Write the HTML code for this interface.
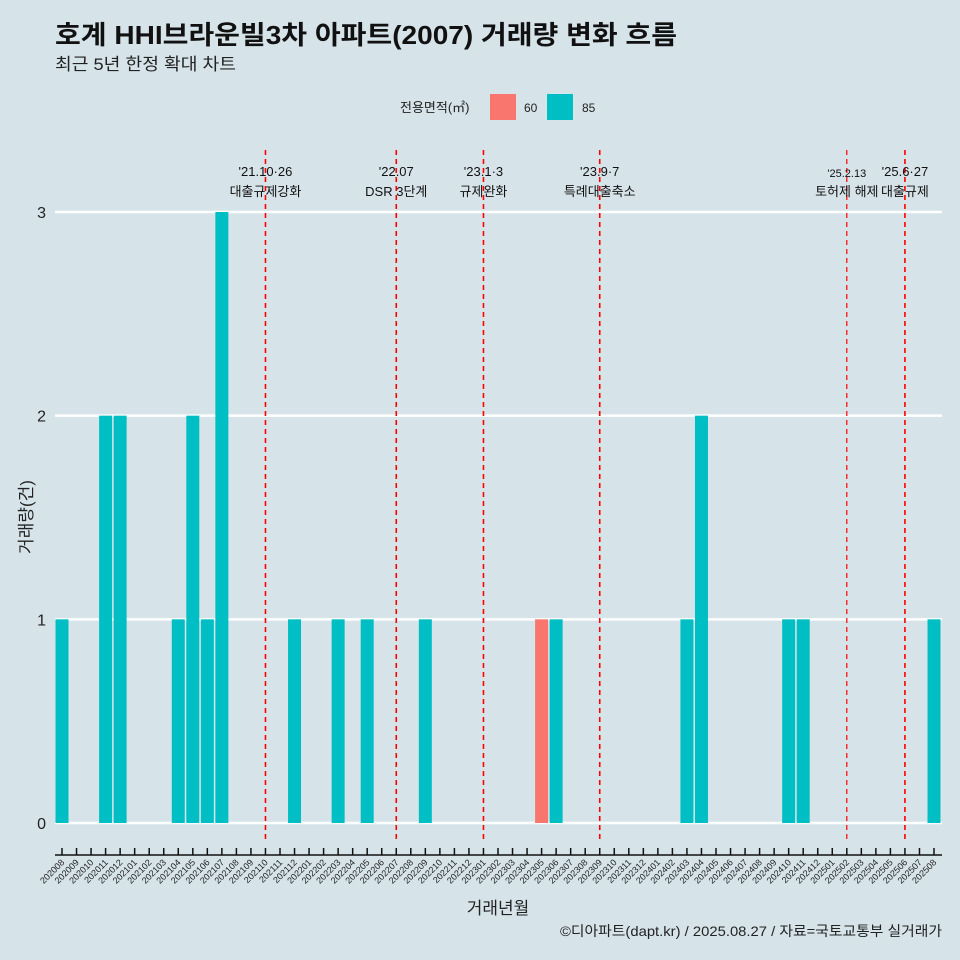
<!DOCTYPE html>
<html><head><meta charset="utf-8"><style>
body{margin:0;background:#d6e4ea;}
svg{display:block;font-family:"Liberation Sans","Noto Sans CJK KR",sans-serif;}
</style></head><body>
<svg width="960" height="960" viewBox="0 0 960 960">
<rect width="960" height="960" fill="#d6e4ea"/>
<text x="55" y="44" font-size="26" font-weight="bold" fill="#111" textLength="622" lengthAdjust="spacingAndGlyphs">호계 HHI브라운빌3차 아파트(2007) 거래량 변화 흐름</text>
<text x="55" y="70" font-size="17" fill="#222" textLength="181" lengthAdjust="spacingAndGlyphs">최근 5년 한정 확대 차트</text>
<g>
<text x="400" y="112" font-size="13" fill="#222">전용면적(㎡)</text>
<rect x="490" y="94" width="26" height="26" fill="#f8766d"/>
<text x="524" y="112" font-size="12" fill="#222">60</text>
<rect x="547" y="94" width="26" height="26" fill="#00bfc4"/>
<text x="582" y="112" font-size="12" fill="#222">85</text>
</g>
<g id="grid"></g><g id="bars"></g><g id="events"></g><g id="axes"></g>
<text x="32" y="517" font-size="17" fill="#222" transform="rotate(-90 32 517)" text-anchor="middle">거래량(건)</text>
<text x="498" y="914" font-size="17" fill="#222" text-anchor="middle">거래년월</text>
<text x="942" y="936" font-size="14" fill="#222" text-anchor="end" textLength="382" lengthAdjust="spacingAndGlyphs">©디아파트(dapt.kr) / 2025.08.27 / 자료=국토교통부 실거래가</text>
</svg>
<script>
const months=[];for(let y=2020;y<=2025;y++)for(let m=1;m<=12;m++){const k=y*100+m;if(k>=202008&&k<=202508)months.push(String(k));}
const bar85Months=["202008","202011","202012","202104","202105","202106","202107","202112","202203","202205","202209","202306","202403","202404","202410","202411","202508"];
const bar85Values=[1,2,2,1,2,1,3,1,1,1,1,1,1,2,1,1,1];
const bar60Months=["202305"];
const bar60Values=[1];
const yTicks=[0,1,2,3];
const eventMonths=["202110","202207","202301","202309","202502","202506"];
const eventLine1=["'21.10·26","'22.07","'23.1·3","'23.9·7","'25.2.13","'25.6·27"];
const eventLine2=["대출규제강화","DSR 3단계","규제완화","특례대출축소","토허제 해제","대출규제"];
const NS="http://www.w3.org/2000/svg";
const X=i=>62+i*(934-62)/(months.length-1);
const Y=v=>823-v*(823-212)/3;
function mk(t,a,p){const e=document.createElementNS(NS,t);for(const k in a)e.setAttribute(k,a[k]);p.appendChild(e);return e;}
const grid=document.getElementById('grid'),bars=document.getElementById('bars'),ev=document.getElementById('events'),ax=document.getElementById('axes');
yTicks.forEach(v=>{
 const l=mk('line',{x1:55,x2:942,y1:Y(v),y2:Y(v),stroke:'#fff','stroke-width':2.5},grid);
 
 
 const t=mk('text',{x:46,y:Y(v)+6,'font-size':16,fill:'#222','text-anchor':'end'},grid);t.textContent=v;
 
 
});
const bw=13;
function drawBars(ms,vs,col,name){ms.forEach((m,j)=>{const i=months.indexOf(m);
 const r=mk('rect',{x:X(i)-bw/2,y:Y(vs[j]),width:bw,height:Y(0)-Y(vs[j]),fill:col},bars);
 
 });}
drawBars(bar85Months,bar85Values,'#00bfc4','bar-85');
drawBars(bar60Months,bar60Values,'#f8766d','bar-60');
eventMonths.forEach((m,j)=>{const x=X(months.indexOf(m));const small=m==="202502";
 const l=mk('line',{x1:x,x2:x,y1:150,y2:843,stroke:'#ff0000','stroke-width':small?1.2:1.6,'stroke-dasharray':'5,4'},ev);
 
 
 const t1=mk('text',{x:x,y:small?177:176,'font-size':small?11:13,fill:'#111','text-anchor':'middle'},ev);t1.textContent=eventLine1[j];
 
 
 const t2=mk('text',{x:x,y:196,'font-size':13,fill:'#111','text-anchor':'middle'},ev);t2.textContent=eventLine2[j];
 
 
});
const al=mk('line',{x1:55,x2:942,y1:855,y2:855,stroke:'#111','stroke-width':1.5},ax);


months.forEach((m,i)=>{const x=X(i);
 const tk=mk('line',{x1:x,x2:x,y1:848,y2:855,stroke:'#111','stroke-width':1.5},ax);
 
 
 const t=mk('text',{x:x+3,y:863,'font-size':9,fill:'#222','text-anchor':'end',transform:`rotate(-45 ${x+3} 863)`},ax);t.textContent=m;
 
 
});
</script>
</body></html>
